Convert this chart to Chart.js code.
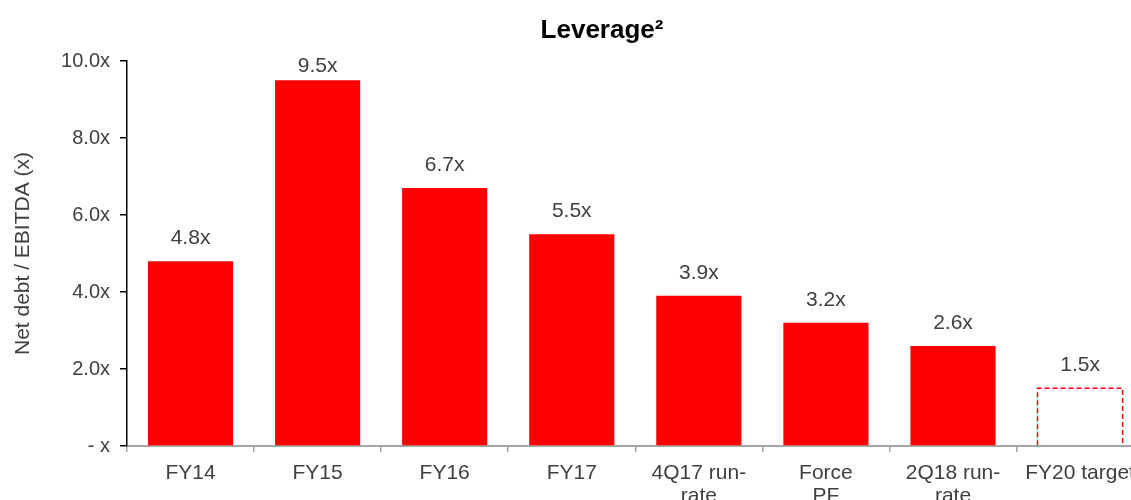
<!DOCTYPE html>
<html>
<head>
<meta charset="utf-8">
<script src="https://cdn.jsdelivr.net/npm/chart.js@4.4.0/dist/chart.umd.min.js"></script>
<style>
  html, body { margin: 0; padding: 0; background: #fff; overflow: hidden; }
  #wrap { width: 1131px; height: 500px; overflow: hidden; }
</style>
</head>
<body>
<div id="wrap"><canvas id="chart" width="1145" height="500"></canvas></div>
<script>
const categories = [
  'FY14', 'FY15', 'FY16', 'FY17',
  ['4Q17 run-', 'rate'], ['Force', 'PF'], ['2Q18 run-', 'rate'], 'FY20 target'
];
const leverage = [4.8, 9.5, 6.7, 5.5, 3.9, 3.2, 2.6, 1.5];
const isTarget = [false, false, false, false, false, false, false, true];
const yTicks = [0, 2, 4, 6, 8, 10];

const FONT = "'Liberation Sans', Arial, sans-serif";
const TEXT = '#404040';
const RED = '#FF0000';

// title drawn by hand so the superscript sits right
const titlePlugin = {
  id: 'titleText',
  afterDraw(chart) {
    const ctx = chart.ctx;
    ctx.save();
    ctx.font = 'bold 26px ' + FONT;
    ctx.fillStyle = '#000';
    ctx.textAlign = 'center';
    ctx.textBaseline = 'alphabetic';
    ctx.fillText('Leverage\u00B2', 602, 38);
    ctx.restore();
  }
};

const valueLabels = {
  id: 'valueLabels',
  afterDatasetsDraw(chart) {
    const ctx = chart.ctx;
    const meta = chart.getDatasetMeta(0);
    ctx.save();
    ctx.font = '21px ' + FONT;
    ctx.fillStyle = TEXT;
    ctx.textAlign = 'center';
    ctx.textBaseline = 'alphabetic';
    meta.data.forEach((bar, i) => {
      // dashed outline for the target bar
      if (isTarget[i]) {
        const l = bar.x - bar.width / 2, r = bar.x + bar.width / 2;
        ctx.save();
        ctx.strokeStyle = RED;
        ctx.lineWidth = 1.5;
        ctx.setLineDash([5, 3]);
        ctx.beginPath();
        ctx.moveTo(l, bar.base);
        ctx.lineTo(l, bar.y);
        ctx.lineTo(r, bar.y);
        ctx.lineTo(r, bar.base);
        ctx.stroke();
        ctx.restore();
      }
      const y = Math.max(bar.y - 17, chart.chartArea.top + 11);
      ctx.fillText(leverage[i].toFixed(1) + 'x', bar.x, y);
    });
    ctx.restore();
  }
};

new Chart(document.getElementById('chart'), {
  type: 'bar',
  data: {
    labels: categories,
    datasets: [{
      data: leverage,
      backgroundColor: isTarget.map(t => t ? 'rgba(0,0,0,0)' : RED),
      borderWidth: 0,
      barPercentage: 0.67,
      categoryPercentage: 1.0
    }]
  },
  options: {
    responsive: false,
    animation: false,
    layout: { padding: { top: 61, right: 1, left: 0, bottom: 0 } },
    plugins: {
      legend: { display: false },
      tooltip: { enabled: false },
      title: { display: false }
    },
    scales: {
      x: {
        afterFit(scale) { scale.height = 54; },
        grid: { drawOnChartArea: false, drawTicks: true, tickLength: 6, color: '#A6A6A6', lineWidth: 1.5 },
        border: { color: '#A6A6A6', width: 2 },
        ticks: {
          color: TEXT,
          font: { family: FONT, size: 21, lineHeight: 1.1 },
          maxRotation: 0,
          autoSkip: false,
          padding: 10
        }
      },
      y: {
        min: 0,
        max: 10,
        afterFit(scale) { scale.width = 127; },
        afterBuildTicks(scale) { scale.ticks = yTicks.map(v => ({ value: v })); },
        grid: { drawOnChartArea: false, drawTicks: true, tickLength: 7, color: '#000', lineWidth: 1.5 },
        border: { color: '#000', width: 1.5 },
        ticks: {
          color: TEXT,
          font: { family: FONT, size: 20 },
          padding: 10,
          callback: v => v === 0 ? '- x' : v.toFixed(1) + 'x'
        },
        title: {
          display: true,
          text: 'Net debt / EBITDA (x)',
          color: TEXT,
          font: { family: FONT, size: 21 },
          padding: { top: 11, bottom: 0 }
        }
      }
    }
  },
  plugins: [titlePlugin, valueLabels]
});
</script>
</body>
</html>
